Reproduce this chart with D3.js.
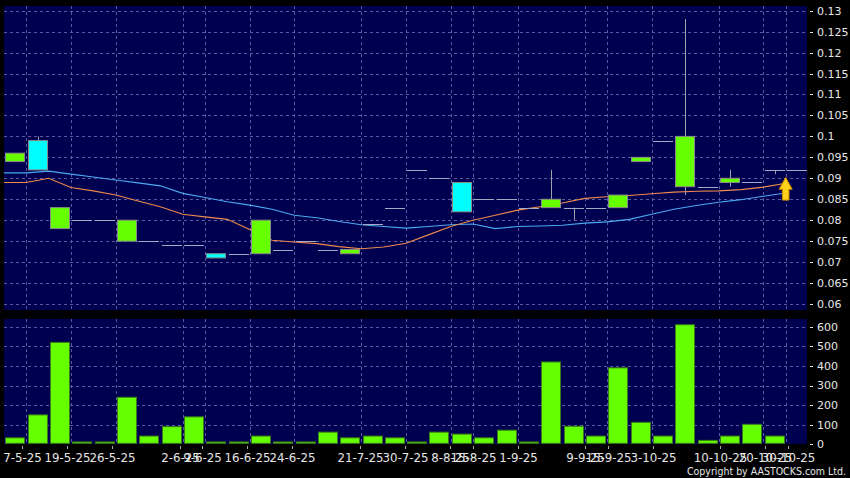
<!DOCTYPE html>
<html><head><meta charset="utf-8">
<script src="https://cdn.jsdelivr.net/npm/d3@7"></script>
<style>html,body{margin:0;padding:0;background:#000;}svg{display:block}</style>
</head><body>
<svg id="c" width="850" height="478"></svg>
<script>
const dates = ["7-5-25","8-5-25","19-5-25","20-5-25","26-5-25","27-5-25","29-5-25","2-6-25","9-6-25","11-6-25",
  "16-6-25","19-6-25","24-6-25","3-7-25","14-7-25","21-7-25","25-7-25","30-7-25","4-8-25","8-8-25",
  "15-8-25","26-8-25","1-9-25","3-9-25","5-9-25","9-9-25","15-9-25","24-9-25","3-10-25","6-10-25",
  "9-10-25","10-10-25","15-10-25","20-10-25","30-10-25","31-10-25"];
const open  = [0.096,0.092,0.083,0.080,0.080,0.080,0.075,0.074,0.074,0.071,0.072,0.080,0.073,0.075,0.073,0.073,0.079,0.083,0.092,0.090,
               0.082,0.085,0.085,0.083,0.085,0.083,0.083,0.086,0.095,0.099,0.100,0.088,0.090,0.089,0.092,0.092];
const high  = [0.096,0.100,0.083,0.080,0.080,0.080,0.075,0.074,0.074,0.072,0.072,0.080,0.073,0.075,0.073,0.073,0.079,0.083,0.092,0.090,
               0.089,0.085,0.085,0.083,0.092,0.083,0.083,0.086,0.095,0.099,0.128,0.088,0.092,0.089,0.092,0.092];
const low   = [0.094,0.092,0.078,0.080,0.080,0.075,0.075,0.074,0.074,0.071,0.072,0.072,0.073,0.075,0.073,0.072,0.079,0.083,0.092,0.090,
               0.082,0.085,0.085,0.083,0.083,0.080,0.083,0.083,0.094,0.099,0.086,0.088,0.088,0.089,0.091,0.092];
const close = [0.094,0.099,0.078,0.080,0.080,0.075,0.075,0.074,0.074,0.072,0.072,0.072,0.073,0.075,0.073,0.072,0.079,0.083,0.092,0.090,
               0.089,0.085,0.085,0.083,0.083,0.083,0.083,0.083,0.094,0.099,0.088,0.088,0.089,0.089,0.092,0.092];
const volume = [33,150,520,12,12,240,42,90,140,12,12,42,12,12,62,33,42,33,12,62,
                52,33,72,12,420,92,42,390,112,42,610,20,42,102,42,0];
const ma10 = [0.0890,0.0890,0.0900,0.0878,0.0870,0.0860,0.0846,0.0832,0.0814,0.0808,0.0802,0.0778,0.0752,0.0748,0.0744,0.0737,0.0732,0.0736,0.0745,0.0765,
              0.0785,0.0800,0.0812,0.0824,0.0832,0.0841,0.0852,0.0856,0.0859,0.0863,0.0867,0.0869,0.0870,0.0873,0.0879,0.0888];
const ma20 = [0.0913,0.0913,0.0917,0.0910,0.0903,0.0896,0.0889,0.0882,0.0864,0.0854,0.0844,0.0836,0.0826,0.0812,0.0806,0.0797,0.0789,0.0785,0.0781,0.0785,
              0.0789,0.0791,0.0780,0.0785,0.0786,0.0788,0.0793,0.0796,0.0802,0.0814,0.0826,0.0835,0.0843,0.0849,0.0857,0.0865];
const tickIndex = [0,2,4,7,8,10,12,15,17,19,20,22,25,26,28,31,33,34];
const priceTicks = [0.06,0.065,0.07,0.075,0.08,0.085,0.09,0.095,0.1,0.105,0.11,0.115,0.12,0.125,0.13];
const volumeTicks = [0,100,200,300,400,500,600];
const arrowMark = {index: 35, top: 0.0902, bottom: 0.0848};
const copyright = "Copyright by AASTOCKS.com Ltd.";

const svg = d3.select("#c");
const L = 4, R = 807;
const mainTop = 6, mainBot = 310, volTop = 319, volBot = 444;
const NAVY = "#000050", GRID = "#5a5a9e", TXT = "#e6e6e6";
const FONT = "DejaVu Sans";

const xs = d3.scaleLinear().domain([0, dates.length]).range([L, L + 804]);
const xt = d3.scaleLinear().domain([0, 34]).range([22.3, 787.7]);
const y = d3.scaleLinear().domain([0.06, 0.13]).range([304, 10.7]);
const yv = d3.scaleLinear().domain([0, 600]).range([444.3, 326.7]);

svg.append("rect").attr("width",850).attr("height",478).attr("fill","#000");
svg.append("rect").attr("x",L).attr("y",mainTop).attr("width",R-L).attr("height",mainBot-mainTop).attr("fill",NAVY);
svg.append("rect").attr("x",L).attr("y",volTop).attr("width",R-L).attr("height",volBot-volTop).attr("fill",NAVY);

// grids
const g = svg.append("g").attr("stroke",GRID).attr("stroke-width",1).attr("stroke-dasharray","3,3");
g.selectAll(".hm").data(priceTicks).join("line")
  .attr("x1",L).attr("x2",R).attr("y1",d=>Math.round(y(d))+0.5).attr("y2",d=>Math.round(y(d))+0.5);
g.selectAll(".hv").data(volumeTicks.filter(d=>d>0)).join("line")
  .attr("x1",L).attr("x2",R).attr("y1",d=>Math.round(yv(d))+0.5).attr("y2",d=>Math.round(yv(d))+0.5);
g.selectAll(".vm").data(tickIndex).join("line")
  .attr("x1",d=>Math.round(xs(d+1))+0.5).attr("x2",d=>Math.round(xs(d+1))+0.5).attr("y1",mainTop).attr("y2",mainBot);
g.selectAll(".vv").data(tickIndex).join("line")
  .attr("x1",d=>Math.round(xs(d+1))+0.5).attr("x2",d=>Math.round(xs(d+1))+0.5).attr("y1",volTop).attr("y2",volBot);

// MA lines
const idx = d3.range(ma10.length);
const line = arr => d3.line().x(i=>xs(i)).y(i=>y(arr[i]))(idx);
svg.append("path").attr("d",line(ma20)).attr("fill","none").attr("stroke","#4aaaf0").attr("stroke-width",1.1);
svg.append("path").attr("d",line(ma10)).attr("fill","none").attr("stroke","#ee8a4c").attr("stroke-width",1.1);

// candles
const cg = svg.append("g");
dates.forEach((d,i)=>{
  const cx = Math.round(xs(i+0.5));
  const o=open[i], c=close[i], h=high[i], l=low[i];
  if (h !== l) {
    cg.append("line").attr("x1",cx+0.5).attr("x2",cx+0.5).attr("y1",y(h)).attr("y2",y(l)).attr("stroke","#a0a0a8");
  }
  if (o === c) {
    cg.append("line").attr("x1",cx-10).attr("x2",cx+10).attr("y1",Math.round(y(c))+0.5).attr("y2",Math.round(y(c))+0.5)
      .attr("stroke","#a8a8c4");
  } else {
    const top = y(Math.max(o,c)), bot = y(Math.min(o,c));
    cg.append("rect").attr("x",cx-9.5).attr("y",top).attr("width",19).attr("height",bot-top)
      .attr("fill", c>o ? "#00ffff" : "#66ff00").attr("stroke","#8a8a8a").attr("stroke-width",1);
  }
});

// volume bars
svg.append("g").selectAll("rect").data(idx.filter(i=>volume[i]>0)).join("rect")
  .attr("x",i=>Math.round(xs(i+0.5))-9.5).attr("y",i=>yv(volume[i]))
  .attr("width",19).attr("height",i=>yv(0)-1-yv(volume[i]))
  .attr("fill","#66ff00").attr("stroke","#3a7a18").attr("stroke-width",1);

// arrow
{
  const ax = xs(arrowMark.index), yt = y(arrowMark.top), yb = y(arrowMark.bottom);
  const hb = yt + (yb-yt)*0.52;
  const p = `M${ax},${yt} L${ax+6.5},${hb} L${ax+3.3},${hb} L${ax+3.3},${yb} L${ax-3.3},${yb} L${ax-3.3},${hb} L${ax-6.5},${hb} Z`;
  svg.append("path").attr("d",p).attr("fill","#ffd21a").attr("stroke","#d08a00").attr("stroke-width",1);
}

// right axes
const ax = svg.append("g").attr("font-family",FONT).attr("font-size",11).attr("fill",TXT);
const fmt = d3.format(".3~f");
priceTicks.forEach(v=>{
  ax.append("line").attr("x1",810).attr("x2",813).attr("y1",Math.round(y(v))+0.5).attr("y2",Math.round(y(v))+0.5).attr("stroke",TXT);
  ax.append("text").attr("x",817).attr("y",y(v)).attr("dy","0.36em").text(fmt(v));
});
volumeTicks.forEach(v=>{
  ax.append("line").attr("x1",810).attr("x2",813).attr("y1",Math.round(yv(v))+0.5).attr("y2",Math.round(yv(v))+0.5).attr("stroke",TXT);
  ax.append("text").attr("x",817).attr("y",yv(v)).attr("dy","0.36em").text(v);
});

// x axis
tickIndex.forEach((k,j)=>{
  const x = Math.round(xt(k))+0.5;
  ax.append("line").attr("x1",x).attr("x2",x).attr("y1",446).attr("y2",449).attr("stroke","#aaa");
  ax.append("text").attr("x",x).attr("y",461.5).attr("font-size",11.8).attr("text-anchor","middle").text(dates[k]);
});

ax.append("text").attr("x",846).attr("y",475).attr("text-anchor","end")
  .attr("font-family","DejaVu Sans Condensed, DejaVu Sans").attr("font-size",10.2).attr("textLength",159).attr("lengthAdjust","spacingAndGlyphs")
  .text(copyright);
</script>
</body></html>
